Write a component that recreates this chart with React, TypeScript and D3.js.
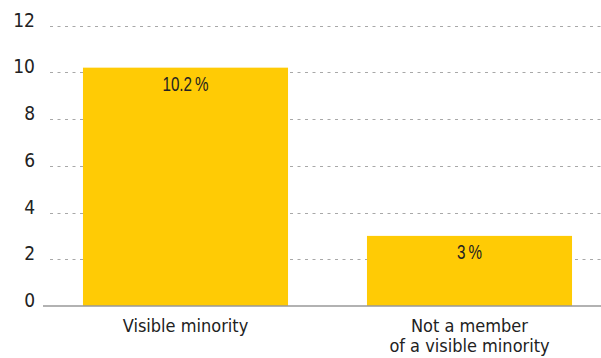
import React from "react";
import * as d3 from "d3";

const categories: string[][] = [["Visible minority"], ["Not a member", "of a visible minority"]];
const values: number[] = [10.2, 3];
const valueLabels: string[] = ["10.2\u2009%", "3\u2009%"];
const yTicks: number[] = [0, 2, 4, 6, 8, 10, 12];

const W = 601;
const H = 358;

export default function App() {
  const x = d3
    .scaleBand<number>()
    .domain(values.map((_, i) => i))
    .range([43.5, 611.5])
    .paddingInner(0.278)
    .paddingOuter(0.139);
  const y = d3.scaleLinear().domain([0, 12]).range([306, 25.6]);

  const axisFont = "'DejaVu Sans Condensed', 'DejaVu Sans', sans-serif";
  const labelFont = "'Liberation Sans', Arial, sans-serif";

  return (
    <svg
      width={W}
      height={H}
      style={{ position: "absolute", left: 0, top: 0, background: "#fff" }}
    >
      {yTicks.map((t) =>
        t === 0 ? null : (
          <line
            key={"g" + t}
            x1={50}
            x2={601}
            y1={Math.round(y(t)) + 0.5}
            y2={Math.round(y(t)) + 0.5}
            stroke="#a8a8a8"
            strokeWidth={1}
            strokeDasharray="3,4.5"
          />
        )
      )}
      {yTicks.map((t) => (
        <text
          key={"t" + t}
          x={35}
          y={y(t) + 1}
          textAnchor="end"
          fontFamily={axisFont}
          fontSize={19}
          fill="#222"
        >
          {t}
        </text>
      ))}
      {values.map((v, i) => (
        <rect
          key={"b" + i}
          x={x(i)}
          y={y(v)}
          width={x.bandwidth()}
          height={y(0) - y(v)}
          fill="#ffcb05"
        />
      ))}
      <line x1={43} x2={601} y1={306} y2={306} stroke="#999" strokeWidth={1.5} />
      {values.map((v, i) => {
        const cx = (x(i) as number) + x.bandwidth() / 2;
        return (
          <text
            key={"v" + i}
            transform={`translate(${cx},${y(v) + 23}) scale(0.78,1)`}
            textAnchor="middle"
            fontFamily={labelFont}
            fontSize={19.5}
            fill="#222"
          >
            {valueLabels[i]}
          </text>
        );
      })}
      {categories.map((lines, i) => (
        <text
          key={"c" + i}
          textAnchor="middle"
          fontFamily={axisFont}
          fontSize={18}
          fill="#222"
        >
          {lines.map((ln, j) => (
            <tspan key={j} x={(x(i) as number) + x.bandwidth() / 2} y={332 + j * 19.5}>
              {ln}
            </tspan>
          ))}
        </text>
      ))}
    </svg>
  );
}
